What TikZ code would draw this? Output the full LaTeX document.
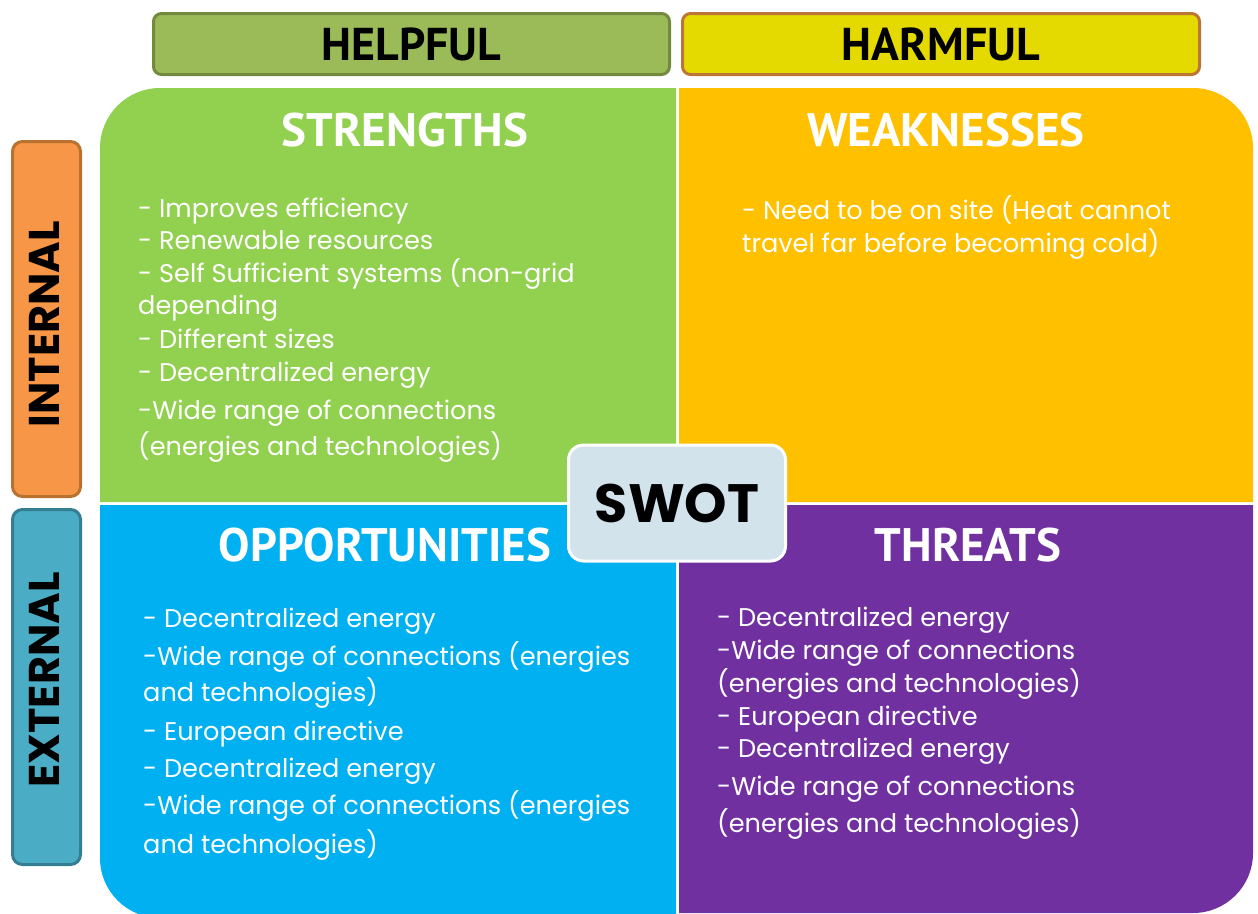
\documentclass[tikz,border=0pt]{standalone}
\usepackage{fontspec}
\setmainfont{Poppins}
\newfontfamily\hdfont{PT Sans}
\definecolor{cS}{HTML}{92D050}
\definecolor{cW}{HTML}{FFC000}
\definecolor{cO}{HTML}{00B0F0}
\definecolor{cT}{HTML}{7030A0}
\definecolor{helpF}{HTML}{9BBB59}
\definecolor{helpD}{HTML}{738A3E}
\definecolor{harmF}{HTML}{E5DA00}
\definecolor{harmD}{HTML}{BD7537}
\definecolor{intF}{HTML}{F79646}
\definecolor{intD}{HTML}{B8712E}
\definecolor{extF}{HTML}{4BACC6}
\definecolor{extD}{HTML}{357E92}
\definecolor{swotF}{HTML}{D2E3EC}
\tikzset{
  hdrbox/.style={rectangle, rounded corners=8pt, line width=3pt, inner sep=0pt,
    font=\hdfont\bfseries\fontsize{46}{46}\selectfont, text=black},
  sidebox/.style={rectangle, rounded corners=10pt, line width=3pt, inner sep=0pt,
    minimum width=68pt, minimum height=355pt},
  sidetext/.style={inner sep=0pt, rotate=90, text=black,
    font=\bfseries\fontsize{43}{43}\selectfont},
  quadtitle/.style={inner sep=0pt, text=white, font=\hdfont\bfseries\fontsize{47}{47}\selectfont},
  body/.style={anchor=base west, inner sep=0pt, text=white, font=\fontsize{25.6}{30}\selectfont},
}
\begin{document}
\begin{tikzpicture}[x=1pt,y=-1pt]
\useasboundingbox (0,0) rectangle (1258,913);
\fill[white] (0,0) rectangle (1258,913);
% quadrants
\fill[cS] (100,502) [rounded corners=60pt] -- (100,88) [sharp corners] -- (676,88) -- (676,502) -- cycle;
\fill[cW] (679,502) -- (679,88) [rounded corners=60pt] -- (1253,88) [sharp corners] -- (1253,502) -- cycle;
\fill[cO] (676,505) -- (100,505) [rounded corners=60pt] -- (100,918) [sharp corners] -- (676,918) -- cycle;
\fill[cT] (679,505) -- (1253,505) [rounded corners=60pt] -- (1253,913) [sharp corners] -- (679,913) -- cycle;
% headers
\node[hdrbox, fill=helpF, draw=helpD, minimum width=516pt, minimum height=61pt] (helpful) at (411.5,44) {HELPFUL};
\node[hdrbox, fill=harmF, draw=harmD, minimum width=517pt, minimum height=61pt] (harmful) at (941,44) {HARMFUL};
\node[sidebox, fill=intF, draw=intD] (internal) at (46.5,319) {};
\node[sidetext] (internalT) at (44,324) {INTERNAL};
\node[sidebox, fill=extF, draw=extD] (external) at (46.5,687) {};
\node[sidetext] (externalT) at (44,680) {EXTERNAL};
% quadrant titles
\node[quadtitle] (tS) at (405,130) {STRENGTHS};
\node[quadtitle] (tW) at (946,130) {WEAKNESSES};
\node[quadtitle] (tO) at (385,545) {OPPORTUNITIES};
\node[quadtitle] (tT) at (968,545) {THREATS};
% strengths
\node[body] (s1) at (138,217) {- Improves efficiency};
\node[body] (s2) at (138,249) {- Renewable resources};
\node[body] (s3) at (138,282) {- Self Sufficient systems (non-grid};
\node[body] (s4) at (138,314) {depending};
\node[body] (s5) at (138,348) {- Different sizes};
\node[body] (s6) at (138,381) {- Decentralized energy};
\node[body] (s7) at (138,419) {-Wide range of connections};
\node[body] (s8) at (138,455) {(energies and technologies)};
% weaknesses
\node[body] (w1) at (742,219) {- Need to be on site (Heat cannot};
\node[body] (w2) at (742,252) {travel far before becoming cold)};
% opportunities
\node[body] (o1) at (143,627) {- Decentralized energy};
\node[body] (o2) at (143,665) {-Wide range of connections (energies};
\node[body] (o3) at (143,701) {and technologies)};
\node[body] (o4) at (143,740) {- European directive};
\node[body] (o5) at (143,777) {- Decentralized energy};
\node[body] (o6) at (143,814) {-Wide range of connections (energies};
\node[body] (o7) at (143,853) {and technologies)};
% threats
\node[body] (t1) at (717,626) {- Decentralized energy};
\node[body] (t2) at (717,659) {-Wide range of connections};
\node[body] (t3) at (717,692) {(energies and technologies)};
\node[body] (t4) at (717,725) {- European directive};
\node[body] (t5) at (717,757) {- Decentralized energy};
\node[body] (t6) at (717,795) {-Wide range of connections};
\node[body] (t7) at (717,832) {(energies and technologies)};
% SWOT
\node[rectangle, rounded corners=15pt, fill=swotF, draw=white, line width=3pt,
  minimum width=217pt, minimum height=116pt, inner sep=0pt,
  font=\bfseries\fontsize{54}{54}\selectfont] (swot) at (677,503) {SWOT};
\end{tikzpicture}
\end{document}
